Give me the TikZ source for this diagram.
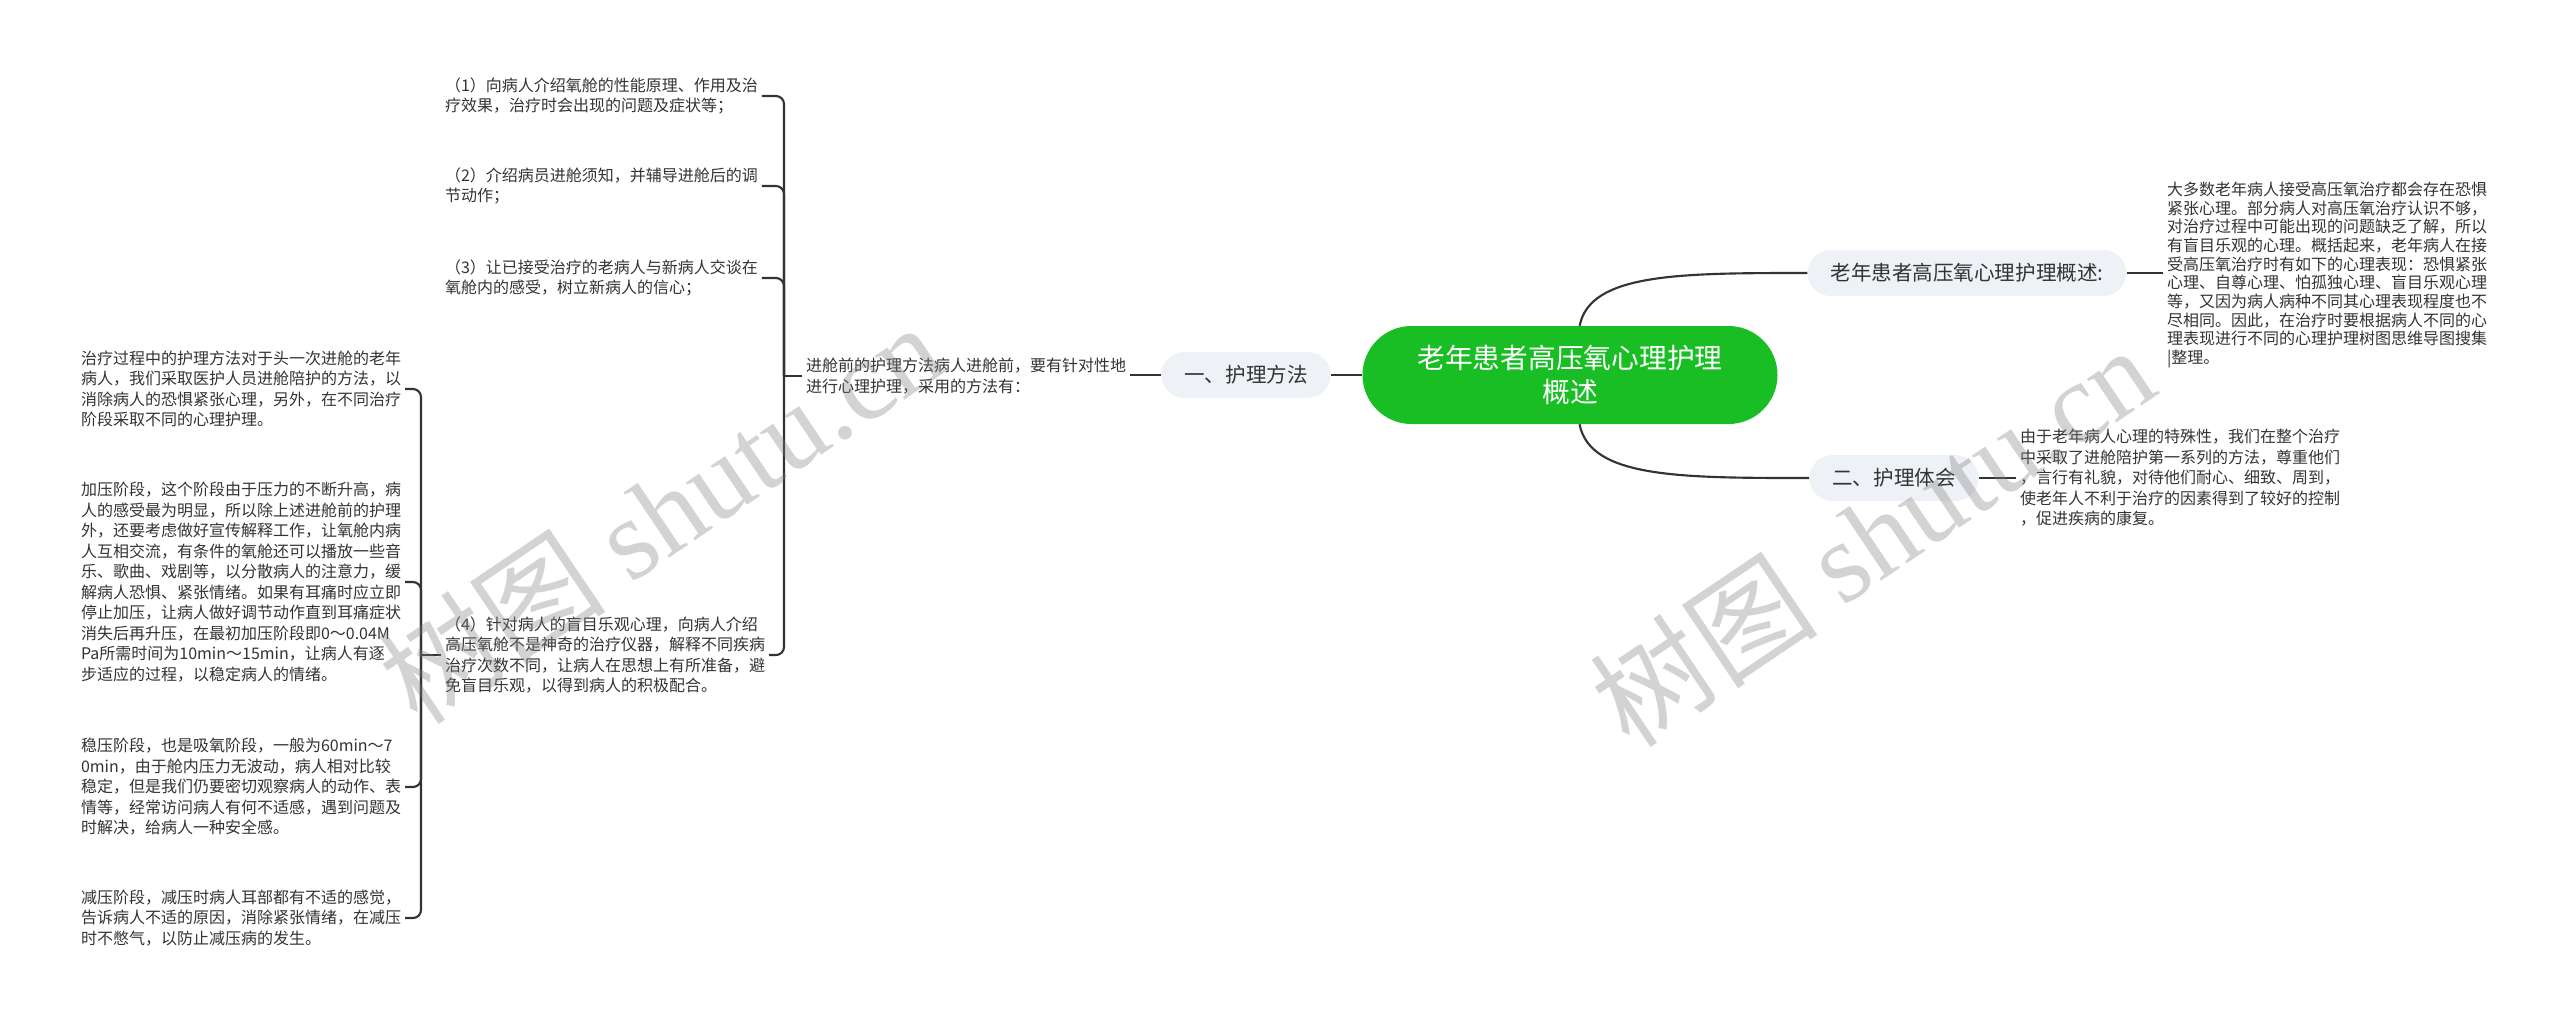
\documentclass[tikz,border=0pt]{standalone}
\usepackage{fontspec}
\usepackage{xcolor}
\setmainfont{Noto Sans CJK SC}
\newfontfamily\wmfont{Liberation Serif}
\definecolor{rootgreen}{RGB}{24,190,36}
\definecolor{branchfill}{RGB}{238,241,245}
\definecolor{linegray}{RGB}{51,51,51}

\begin{document}
\begin{tikzpicture}[x=0.75pt, y=-0.75pt,
  root/.style={fill=rootgreen, text=white, rounded corners=36.75pt, minimum width=311.25pt, minimum height=73.5pt, align=center, font=\fontsize{20.8pt}{26pt}\selectfont},
  branch/.style={fill=branchfill, text=linegray, rounded corners=17.25pt, minimum height=34.5pt, inner xsep=17.25pt, font=\fontsize{15.4pt}{18pt}\selectfont},
  leaf/.style={anchor=west, align=left, inner sep=0pt, outer sep=3pt, text=linegray, font=\fontsize{12pt}{15.4pt}\selectfont},
  link/.style={draw=linegray, line width=1.6pt},
  mark wm/.style={rotate=34, text=gray, opacity=.35, font=\fontsize{86pt}{86pt}\selectfont}]
\useasboundingbox (0,0) rectangle (2560,1026);
% 中心
\node[root] (root) at (1570,375) {老年患者高压氧心理护理\\概述};
% 分支
\node[branch] (m1) at (1246,375) {一、护理方法};
\node[branch] (ov) at (1967,273) {老年患者高压氧心理护理概述:};
\node[branch] (m2) at (1894,478) {二、护理体会};
% 一、护理方法
\node[leaf] (pa) at (802,376) {进舱前的护理方法病人进舱前，要有针对性地\\进行心理护理，采用的方法有：};
\node[leaf] (i1) at (441,96) {（1）向病人介绍氧舱的性能原理、作用及治\\疗效果，治疗时会出现的问题及症状等；};
\node[leaf] (i2) at (441,186) {（2）介绍病员进舱须知，并辅导进舱后的调\\节动作；};
\node[leaf] (i3) at (441,278) {（3）让已接受治疗的老病人与新病人交谈在\\氧舱内的感受，树立新病人的信心；};
\node[leaf] (i4) at (441,655) {（4）针对病人的盲目乐观心理，向病人介绍\\高压氧舱不是神奇的治疗仪器，解释不同疾病\\治疗次数不同，让病人在思想上有所准备，避\\免盲目乐观，以得到病人的积极配合。};
\node[leaf] (t1) at (77,389) {治疗过程中的护理方法对于头一次进舱的老年\\病人，我们采取医护人员进舱陪护的方法，以\\消除病人的恐惧紧张心理，另外，在不同治疗\\阶段采取不同的心理护理。};
\node[leaf] (t2) at (77,582) {加压阶段，这个阶段由于压力的不断升高，病\\人的感受最为明显，所以除上述进舱前的护理\\外，还要考虑做好宣传解释工作，让氧舱内病\\人互相交流，有条件的氧舱还可以播放一些音\\乐、歌曲、戏剧等，以分散病人的注意力，缓\\解病人恐惧、紧张情绪。如果有耳痛时应立即\\停止加压，让病人做好调节动作直到耳痛症状\\消失后再升压，在最初加压阶段即0～0.04M\\Pa所需时间为10min～15min，让病人有逐\\步适应的过程，以稳定病人的情绪。};
\node[leaf] (t3) at (77,787) {稳压阶段，也是吸氧阶段，一般为60min～7\\0min，由于舱内压力无波动，病人相对比较\\稳定，但是我们仍要密切观察病人的动作、表\\情等，经常访问病人有何不适感，遇到问题及\\时解决，给病人一种安全感。};
\node[leaf] (t4) at (77,918) {减压阶段，减压时病人耳部都有不适的感觉，\\告诉病人不适的原因，消除紧张情绪，在减压\\时不憋气，以防止减压病的发生。};
% 概述、体会
\node[leaf, font=\fontsize{12pt}{14pt}\selectfont] (lt) at (2163,275) {大多数老年病人接受高压氧治疗都会存在恐惧\\紧张心理。部分病人对高压氧治疗认识不够，\\对治疗过程中可能出现的问题缺乏了解，所以\\有盲目乐观的心理。概括起来，老年病人在接\\受高压氧治疗时有如下的心理表现：恐惧紧张\\心理、自尊心理、怕孤独心理、盲目乐观心理\\等，又因为病人病种不同其心理表现程度也不\\尽相同。因此，在治疗时要根据病人不同的心\\理表现进行不同的心理护理树图思维导图搜集\\|整理。};
\node[leaf] (et) at (2016,478) {由于老年病人心理的特殊性，我们在整个治疗\\中采取了进舱陪护第一系列的方法，尊重他们\\，言行有礼貌，对待他们耐心、细致、周到，\\使老年人不利于治疗的因素得到了较好的控制\\，促进疾病的康复。};
% 连线
\draw[link] (root) -- (m1);
\draw[link] (m1) -- (m1.west -| pa.east);
\draw[link] (root) .. controls (1590,273) and (1680,273) .. (ov.west);
\draw[link] (root) .. controls (1590,478) and (1680,478) .. (m2.west);
\draw[link] (ov.east) -- (ov.east -| lt.west);
\draw[link] (m2.east) -- (m2.east -| et.west);
% 括号
\draw[link] (pa.west) -- ++(-18,0) coordinate (pj);
\foreach \n in {i1,i2,i3,i4}
  \draw[link, rounded corners=6pt] (pj) |- (\n.east);
\draw[link] (i4.west) -- ++(-20,0) coordinate (qj);
\foreach \n in {t1,t2,t3,t4}
  \draw[link, rounded corners=6pt] (qj) |- (\n.east);
%水印
\node[mark wm] (wm1) at (660,512) {树图 {\wmfont shutu.cn}};
\node[mark wm] (wm2) at (1872,535) {树图 {\wmfont shutu.cn}};
\end{tikzpicture}
\end{document}
